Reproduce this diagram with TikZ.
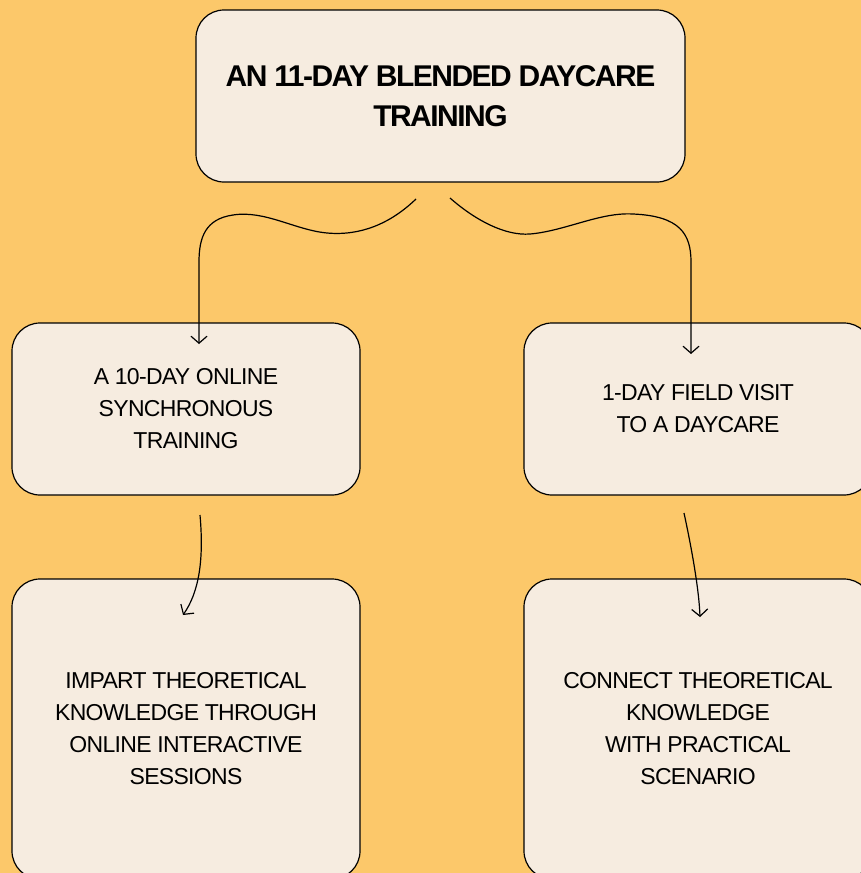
\documentclass[tikz,border=0pt]{standalone}
\usepackage{fontspec}
\setmainfont{Liberation Sans}
\usetikzlibrary{arrows.meta}
\definecolor{bgorange}{HTML}{FCC86A}
\definecolor{cream}{HTML}{F6ECE0}
\tikzset{
  card/.style={draw=black, line width=1.2pt, fill=cream, rounded corners=28pt,
    align=center, inner sep=0pt,
    font=\fontsize{23}{32}\selectfont\addfontfeature{LetterSpace=-3}},
  titlecard/.style={card,
    font=\bfseries\fontsize{30}{40}\selectfont\addfontfeature{LetterSpace=-5}},
  link/.style={draw=black, line width=1.2pt, -{Straight Barb[length=7pt,width=16pt,line width=1.2pt]}},
}
\begin{document}
\begin{tikzpicture}[x=1pt,y=-1pt]
  \useasboundingbox (0,0) rectangle (861,873);
  \clip (0,0) rectangle (861,873);
  \fill[bgorange] (0,0) rectangle (861,873);

  % boxes
  \node[titlecard, minimum width=489pt, minimum height=172pt] (top) at (440.5,96)
    {AN 11-DAY BLENDED DAYCARE\\TRAINING};
  \node[card, minimum width=348pt, minimum height=172pt] (mL) at (186,409)
    {A 10-DAY ONLINE\\SYNCHRONOUS\\TRAINING};
  \node[card, minimum width=348pt, minimum height=172pt] (mR) at (698,409)
    {1-DAY FIELD VISIT\\TO A DAYCARE};
  \node[card, minimum width=348pt, minimum height=300pt] (bL) at (186,729)
    {IMPART THEORETICAL\\KNOWLEDGE THROUGH\\ONLINE INTERACTIVE\\SESSIONS};
  \node[card, minimum width=348pt, minimum height=300pt] (bR) at (698,729)
    {CONNECT THEORETICAL\\KNOWLEDGE\\WITH PRACTICAL\\SCENARIO};

  % connector anchors
  \coordinate (tL) at (416,199);
  \coordinate (tR) at (450,198);
  \coordinate (aL) at (199,344);
  \coordinate (aR) at (691,354);
  \coordinate (sL) at (200,515);
  \coordinate (eL) at (183,615);
  \coordinate (sR) at (684,513);
  \coordinate (eR) at (700,617);

  % wavy branches from the title card
  \draw[link] (tL) .. controls (390,224) and (360,236) .. (327,233)
    .. controls (295,230) and (265,210) .. (233,215)
    .. controls (205,219) and (199,238) .. (199,262) -- (aL);
  \draw[link] (tR) .. controls (475,220) and (505,236) .. (530,234)
    .. controls (565,231) and (600,212) .. (633,214)
    .. controls (680,216) and (691,234) .. (691,262) -- (aR);

  % short arrows into the lower cards
  \draw[link] (sL) .. controls (204,560) and (199,592) .. (eL);
  \draw[link] (sR) .. controls (692,550) and (699,590) .. (eR);
\end{tikzpicture}
\end{document}
